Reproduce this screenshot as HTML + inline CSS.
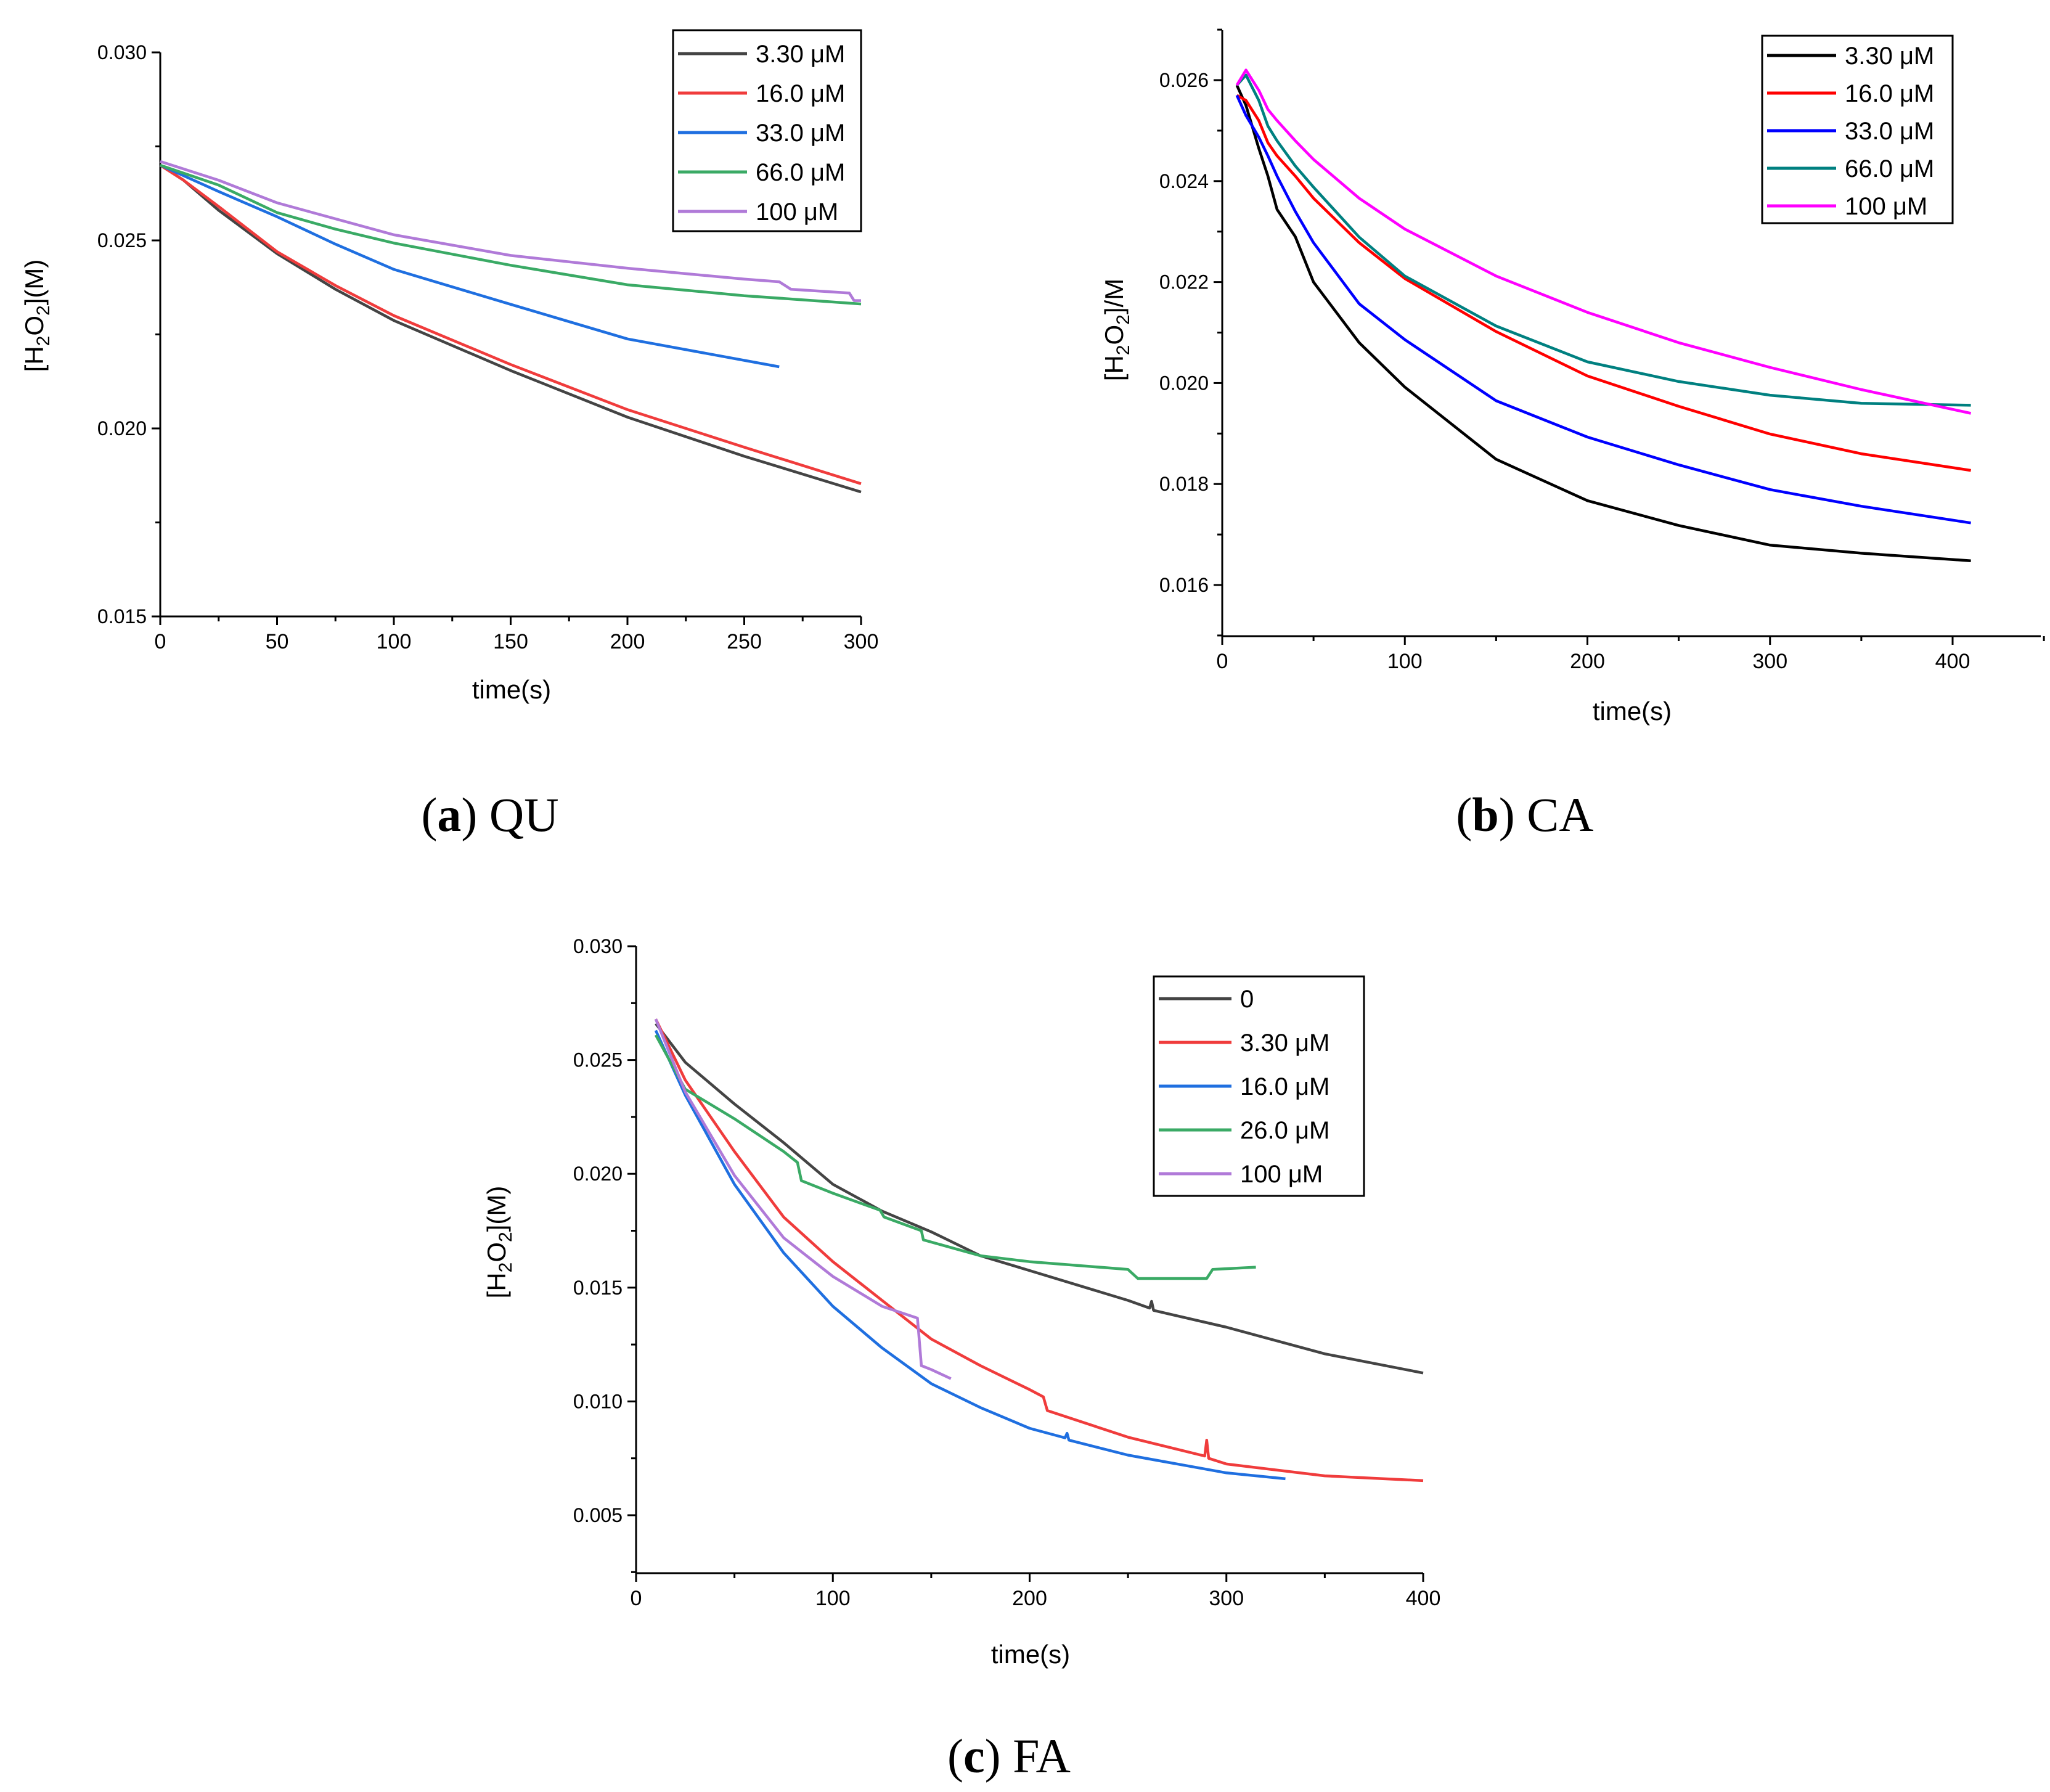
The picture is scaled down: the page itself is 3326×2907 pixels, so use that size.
<!DOCTYPE html>
<html><head><meta charset="utf-8"><style>
html,body{margin:0;padding:0;background:#fff;}
svg{display:block;font-family:"Liberation Sans",Arial,sans-serif;}
</style></head><body>
<svg id="fig" width="3326" height="2907" viewBox="0 0 3326 2907" xmlns="http://www.w3.org/2000/svg">
<rect width="3326" height="2907" fill="#fff"/>
<g id="ga"></g>
<g id="gb"></g>
<g id="gc"></g>
</svg>
<script>
// ---- Panel A (QU) data ----
const aSeriesNames = ["3.30 \u03bcM","16.0 \u03bcM","33.0 \u03bcM","66.0 \u03bcM","100 \u03bcM"];
const aT1 = [0,10,25,50,75,100,150,200,250,300];
const aBlack = [0.0270,0.0266,0.0258,0.02465,0.0237,0.02287,0.02154,0.0203,0.01926,0.01831];
const aRed = [0.0270,0.0266,0.0259,0.0247,0.0238,0.0230,0.0217,0.0205,0.0195,0.01853];
const aT2 = [0,25,50,75,100,150,200,265];
const aBlue = [0.0270,0.0263,0.02563,0.0249,0.02423,0.0233,0.02238,0.02164];
const aT3 = [0,25,50,75,100,150,200,250,300];
const aGreen = [0.0270,0.02647,0.02574,0.0253,0.02493,0.02434,0.02382,0.02353,0.02331];
const aT4 = [0,25,50,100,150,200,250,265,270,295,297,300];
const aPurple = [0.0271,0.0266,0.0260,0.02515,0.0246,0.02426,0.02397,0.0239,0.0237,0.0236,0.0234,0.0234];
const aXTicks = [0,50,100,150,200,250,300];
const aYTicks = ["0.015","0.020","0.025","0.030"];

// ---- Panel B (CA) data ----
const bT = [8,13,20,25,30,40,50,75,100,150,200,250,300,350,410];
const bBlack = [0.0259,0.0255,0.02465,0.0241,0.02344,0.0229,0.0220,0.0208,0.01992,0.01849,0.01767,0.01718,0.01679,0.01663,0.01648];
const bRed = [0.0257,0.0256,0.0252,0.02476,0.0245,0.0241,0.02366,0.02278,0.02207,0.02102,0.02014,0.01954,0.01899,0.0186,0.01827];
const bBlue = [0.0257,0.0253,0.02487,0.0245,0.0241,0.0234,0.02278,0.02157,0.02086,0.01965,0.01893,0.01838,0.01789,0.01756,0.01723];
const bTeal = [0.0259,0.0261,0.0256,0.02509,0.0248,0.0243,0.02388,0.02289,0.02212,0.02113,0.02042,0.02003,0.01976,0.0196,0.01956];
const bMagenta = [0.0259,0.0262,0.0258,0.02542,0.0252,0.0248,0.02443,0.02366,0.02305,0.02212,0.0214,0.0208,0.02031,0.01987,0.0194];
const bXTicks = [0,100,200,300,400];
const bYTicks = ["0.016","0.018","0.020","0.022","0.024","0.026"];

// ---- Panel C (FA) data ----
const cNames = ["0","3.30 \u03bcM","16.0 \u03bcM","26.0 \u03bcM","100 \u03bcM"];
const cT0 = [10,25,50,75,100,125,150,175,200,250,261,262,263,300,350,400];
const cGray = [0.0266,0.0249,0.02307,0.02137,0.01954,0.01836,0.01745,0.0164,0.01575,0.01444,0.0141,0.0144,0.0140,0.01326,0.01209,0.01125];
const cT1 = [10,25,50,75,100,125,150,175,200,207,209,250,289,290,291,300,350,400];
const cRed = [0.0268,0.02412,0.02098,0.0181,0.01614,0.01444,0.01274,0.01157,0.01052,0.0102,0.0096,0.00843,0.0076,0.0083,0.0075,0.00725,0.00673,0.00652];
const cT2 = [10,25,50,75,100,125,150,175,200,218,219,220,250,300,330];
const cBlue = [0.0263,0.02346,0.01954,0.01653,0.01418,0.01235,0.01078,0.00973,0.00882,0.0084,0.0086,0.0083,0.00764,0.00686,0.0066];
const cT3 = [10,25,50,75,82,84,100,124,126,145,146,175,200,250,255,290,293,315];
const cGreen = [0.0261,0.02372,0.02242,0.02098,0.0205,0.0197,0.01915,0.0184,0.0181,0.0175,0.0171,0.0164,0.01614,0.0158,0.0154,0.0154,0.0158,0.0159];
const cT4 = [10,25,50,75,100,125,143,145,150,160];
const cPurple = [0.0268,0.0236,0.01993,0.01719,0.01549,0.01418,0.01366,0.01157,0.0114,0.0110];
const cXTicks = [0,100,200,300,400];
const cYTicks = ["0.005","0.010","0.015","0.020","0.025","0.030"];

const NS="http://www.w3.org/2000/svg";
function mk(tag,attrs,parent,txt){const e=document.createElementNS(NS,tag);for(const k in attrs)e.setAttribute(k,attrs[k]);if(txt!==undefined)e.textContent=txt;parent.appendChild(e);return e;}

function panel(g,cfg){
  const sx=t=>cfg.x0+(t-cfg.t0)/(cfg.t1-cfg.t0)*(cfg.x1-cfg.x0);
  const sy=v=>cfg.y0+(v-cfg.v0)/(cfg.v1-cfg.v0)*(cfg.y1-cfg.y0);
  const axes=mk('g',{},g);
  
  
  const yl=mk('line',{x1:cfg.x0,y1:cfg.axTop,x2:cfg.x0,y2:cfg.axBot,stroke:'#000','stroke-width':3},axes);
  
  
  const xl=mk('line',{x1:cfg.x0,y1:cfg.axBot,x2:cfg.axRight,y2:cfg.axBot,stroke:'#000','stroke-width':3},axes);
  
  
  for(let t=cfg.t0;t<=cfg.xMax+1e-9;t+=cfg.xMinor){
    const major=Math.abs(t/cfg.xMajor-Math.round(t/cfg.xMajor))<1e-6;
    const tk=mk('line',{x1:sx(t),y1:cfg.axBot,x2:sx(t),y2:cfg.axBot+(major?14:8),stroke:'#000','stroke-width':3},axes);
    
    
  }
  cfg.xTicks.forEach(t=>{
    const tl=mk('text',{x:sx(t),y:cfg.axBot+52,'font-size':34,'text-anchor':'middle'},axes,String(t));
    
    
  });
  for(let v=cfg.yMin;v<=cfg.yMax+1e-9;v+=cfg.yMinor){
    const r=v/cfg.yMajor;const major=Math.abs(r-Math.round(r))<1e-6;
    const tk=mk('line',{x1:cfg.x0,y1:sy(v),x2:cfg.x0-(major?14:8),y2:sy(v),stroke:'#000','stroke-width':3},axes);
    
    
  }
  cfg.yTicks.forEach(s=>{
    const tl=mk('text',{x:cfg.x0-22,y:sy(parseFloat(s))+11,'font-size':32,'text-anchor':'end'},axes,s);
    
    
  });
  const xt=mk('text',{x:cfg.xtX,y:cfg.xtY,'font-size':42,'text-anchor':'middle'},g,'time(s)');
  
  
  const yt=mk('text',{transform:`translate(${cfg.ytX},${cfg.ytY}) rotate(-90)`,'font-size':42,'text-anchor':'middle'},g);
  
  
  mk('tspan',{},yt,'[H');mk('tspan',{'font-size':30,dy:10},yt,'2');mk('tspan',{dy:-10},yt,'O');
  mk('tspan',{'font-size':30,dy:10},yt,'2');mk('tspan',{dy:-10},yt,cfg.ySuffix);
  cfg.series.forEach(s=>{
    const pts=s.t.map((t,i)=>sx(t).toFixed(1)+','+sy(s.v[i]).toFixed(1)).join(' ');
    const pl=mk('polyline',{points:pts,fill:'none',stroke:s.c,'stroke-width':4.5,'stroke-linejoin':'round'},g);
    
    
  });
  const lg=mk('g',{},g);
  
  
  const L=cfg.leg;
  mk('rect',{x:L.x,y:L.y,width:L.w,height:L.h,fill:'#fff',stroke:'#000','stroke-width':3},lg);
  cfg.series.forEach((s,i)=>{
    const yy=L.y+L.first+i*L.step;
    const e=mk('g',{},lg);
    
    
    mk('line',{x1:L.x+8,y1:yy,x2:L.x+8+L.line,y2:yy,stroke:s.c,'stroke-width':5},e);
    mk('text',{x:L.x+L.line+22,y:yy+14,'font-size':40},e,s.n);
  });
  const cap=mk('text',{x:cfg.capX,y:cfg.capY,'font-size':78,'text-anchor':'middle','font-family':'"Liberation Serif",serif'},g);
  
  
  mk('tspan',{},cap,'(');mk('tspan',{'font-weight':'bold'},cap,cfg.capL);mk('tspan',{},cap,') '+cfg.capT);
}

panel(document.getElementById('ga'),{t0:0,t1:300,x0:260,x1:1397,v0:0.030,v1:0.015,y0:85,y1:1000,
  axTop:85,axBot:1000,axRight:1397,xMax:300,xMinor:25,xMajor:50,yMin:0.015,yMax:0.030,yMinor:0.0025,yMajor:0.005,
  xTicks:aXTicks,yTicks:aYTicks,xtX:830,xtY:1133,ytX:70,ytY:512,ySuffix:'](M)',
  series:[{t:aT1,v:aBlack,c:'#444444',n:aSeriesNames[0]},{t:aT1,v:aRed,c:'#f03c3c',n:aSeriesNames[1]},
    {t:aT2,v:aBlue,c:'#1f6fe0',n:aSeriesNames[2]},{t:aT3,v:aGreen,c:'#3aaa65',n:aSeriesNames[3]},{t:aT4,v:aPurple,c:'#b07ad8',n:aSeriesNames[4]}],
  leg:{x:1092,y:49,w:305,h:326,first:38,step:64,line:112},capX:795,capY:1348,capL:'a',capT:'QU'});

panel(document.getElementById('gb'),{t0:0,t1:400,x0:1983,x1:3168,v0:0.026,v1:0.016,y0:130,y1:949,
  axTop:49,axBot:1032,axRight:3311,xMax:450,xMinor:50,xMajor:100,yMin:0.015,yMax:0.027,yMinor:0.001,yMajor:0.002,
  xTicks:bXTicks,yTicks:bYTicks,xtX:2648,xtY:1168,ytX:1822,ytY:535,ySuffix:']/M',
  series:[{t:bT,v:bBlack,c:'#000000',n:aSeriesNames[0]},{t:bT,v:bRed,c:'#ff0000',n:aSeriesNames[1]},
    {t:bT,v:bBlue,c:'#0000ff',n:aSeriesNames[2]},{t:bT,v:bTeal,c:'#008080',n:aSeriesNames[3]},{t:bT,v:bMagenta,c:'#ff00ff',n:aSeriesNames[4]}],
  leg:{x:2859,y:58,w:309,h:304,first:32,step:61,line:112},capX:2474,capY:1348,capL:'b',capT:'CA'});

panel(document.getElementById('gc'),{t0:0,t1:400,x0:1032,x1:2309,v0:0.030,v1:0.005,y0:1535,y1:2458,
  axTop:1535,axBot:2552,axRight:2309,xMax:400,xMinor:50,xMajor:100,yMin:0.0025,yMax:0.030,yMinor:0.0025,yMajor:0.005,
  xTicks:cXTicks,yTicks:cYTicks,xtX:1672,xtY:2698,ytX:820,ytY:2015,ySuffix:'](M)',
  series:[{t:cT0,v:cGray,c:'#444444',n:cNames[0]},{t:cT1,v:cRed,c:'#f03c3c',n:cNames[1]},
    {t:cT2,v:cBlue,c:'#1f6fe0',n:cNames[2]},{t:cT3,v:cGreen,c:'#3aaa65',n:cNames[3]},{t:cT4,v:cPurple,c:'#b07ad8',n:cNames[4]}],
  leg:{x:1872,y:1584,w:341,h:356,first:36,step:71,line:118},capX:1637,capY:2875,capL:'c',capT:'FA'});
</script>
</body></html>
